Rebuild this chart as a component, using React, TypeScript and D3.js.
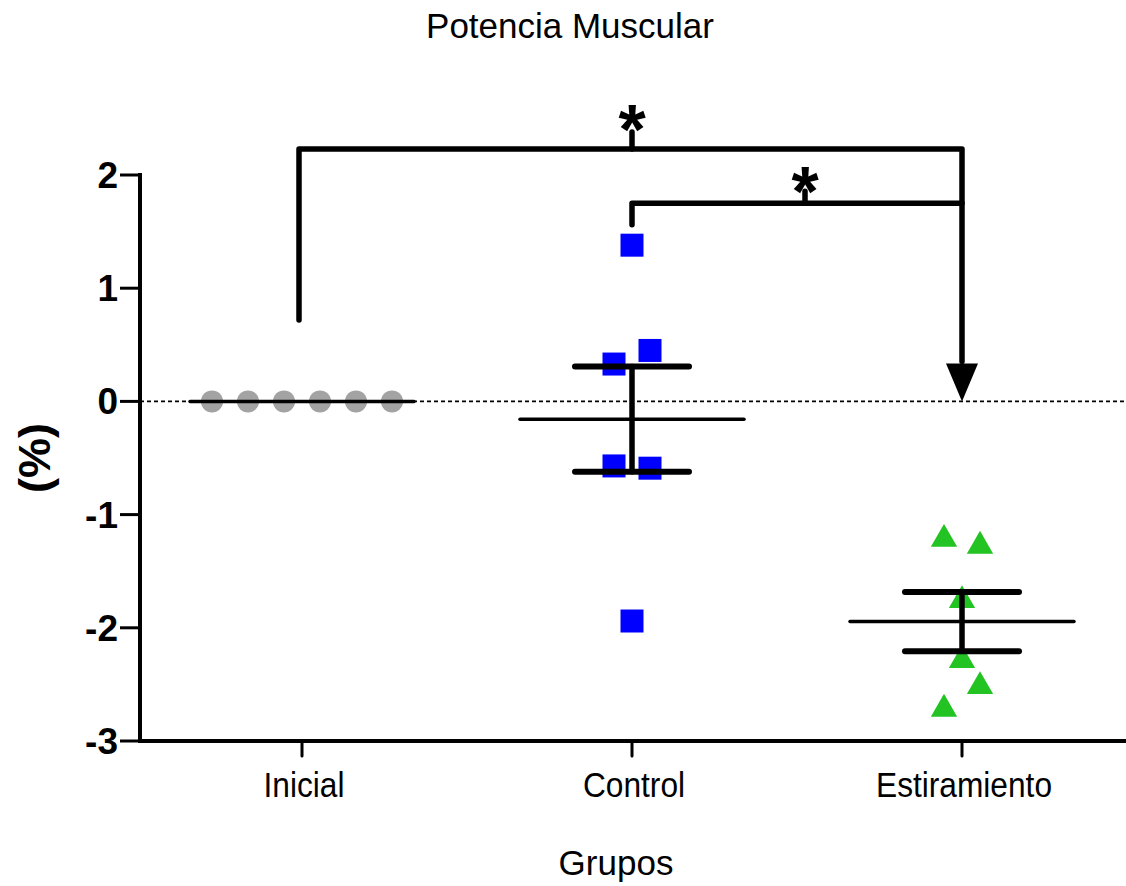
import React from "react";
import * as d3 from "d3";

const categories = ["Inicial", "Control", "Estiramiento"];
const inicialValues = [0, 0, 0, 0, 0, 0];
const controlValues = [1.38, 0.33, 0.45, -0.57, -0.59, -1.94];
const estiramientoValues = [-1.2, -1.26, -1.74, -2.27, -2.5, -2.7];
const yTicks = [-3, -2, -1, 0, 1, 2];
const comparisons = [
  { from: "Inicial", to: "Estiramiento", label: "*" },
  { from: "Control", to: "Estiramiento", label: "*" },
];
const titleText = "Potencia Muscular";
const xTitle = "Grupos";
const yTitle = "(%)";

const W = 1126;
const H = 886;
const FONT = "'Liberation Sans', Arial, Helvetica, sans-serif";

const seriesList = [
  { name: "Inicial", values: inicialValues, shape: "circle", color: "#a3a3a3" },
  { name: "Control", values: controlValues, shape: "square", color: "#0000ff" },
  { name: "Estiramiento", values: estiramientoValues, shape: "triangle", color: "#22c322" },
];

function jitter(values: number[], y: (v: number) => number, step: number): number[] {
  const idx = values.map((_, i) => i).sort((a, b) => values[b] - values[a]);
  const clusters: number[][] = [];
  idx.forEach((i) => {
    const last = clusters[clusters.length - 1];
    if (last && Math.abs(y(values[last[last.length - 1]]) - y(values[i])) < 30) last.push(i);
    else clusters.push([i]);
  });
  const out = new Array(values.length).fill(0);
  clusters.forEach((c) => {
    const sorted = [...c].sort((a, b) => a - b);
    const n = sorted.length;
    sorted.forEach((i, k) => {
      if (n === 3) out[i] = [0, 0.5, -0.5][k] * step;
      else out[i] = (k - (n - 1) / 2) * step;
    });
  });
  return out;
}

export default function App() {
  const left = 140;
  const bottom = 741;
  const top = 175;
  const y = d3.scaleLinear().domain([-3, 2]).range([bottom, top]);
  const x = d3.scalePoint<string>().domain(categories).range([302, 962]);

  const symSquare = d3.symbol().type(d3.symbolSquare).size(23 * 23);
  const symTri = d3.symbol().type(d3.symbolTriangle).size(300);

  const bx = (c: string) => x(c) as number;
  const yTop1 = y(2.23);
  const yTop2 = y(1.75);

  return (
    <svg
      width={W}
      height={H}
      style={{ position: "absolute", left: 0, top: 0, background: "#fff" }}
      fontFamily={FONT}
    >
      <rect width={W} height={H} fill="#fff" />
      <text x={570} y={38} textAnchor="middle" fontSize={35}>{titleText}</text>

      {/* zero line */}
      <line x1={left} x2={W} y1={y(0)} y2={y(0)} stroke="#000" strokeWidth={1.6} strokeDasharray="4,3" />

      {/* y axis */}
      <line x1={left} x2={left} y1={top - 2} y2={bottom + 2} stroke="#000" strokeWidth={4} />
      {yTicks.map((t) => (
        <g key={t}>
          <line x1={left - 20} x2={left} y1={y(t)} y2={y(t)} stroke="#000" strokeWidth={3} />
          <text x={left - 22} y={y(t) + 13} textAnchor="end" fontSize={37} fontWeight="bold">
            {t}
          </text>
        </g>
      ))}
      <text
        transform={`translate(50,${(top + bottom) / 2}) rotate(-90)`}
        textAnchor="middle"
        fontSize={45}
        fontWeight="bold"
      >
        {yTitle}
      </text>

      {/* x axis */}
      <line x1={left - 2} x2={W} y1={bottom} y2={bottom} stroke="#000" strokeWidth={4} />
      {categories.map((c) => (
        <g key={c}>
          <line x1={bx(c)} x2={bx(c)} y1={bottom} y2={bottom + 15} stroke="#000" strokeWidth={3} strokeLinecap="round" />
          <text
            transform={`translate(${bx(c) + 2},797) scale(0.88,1)`}
            textAnchor="middle"
            fontSize={36}
          >
            {c}
          </text>
        </g>
      ))}
      <text x={616} y={875} textAnchor="middle" fontSize={35}>{xTitle}</text>

      {/* points */}
      {seriesList.map((s) => {
        const off = jitter(s.values, y, 36);
        const cx = bx(s.name);
        return (
          <g key={s.name}>
            {s.values.map((v, i) => {
              const px = cx + off[i];
              const py = y(v);
              if (s.shape === "circle")
                return <circle key={i} cx={px} cy={py} r={11} fill={s.color} />;
              if (s.shape === "square")
                return <path key={i} d={symSquare() as string} transform={`translate(${px},${py})`} fill={s.color} />;
              return <path key={i} d={symTri() as string} transform={`translate(${px},${py + 2})`} fill={s.color} />;
            })}
          </g>
        );
      })}

      {/* mean & SEM */}
      {seriesList.map((s) => {
        const m = d3.mean(s.values) as number;
        const sd = d3.deviation(s.values) || 0;
        const sem = sd / Math.sqrt(s.values.length);
        const cx = bx(s.name);
        return (
          <g key={s.name} stroke="#000" strokeLinecap="round">
            <line x1={cx - 112} x2={cx + 112} y1={y(m)} y2={y(m)} strokeWidth={3.5} />
            {sem > 0 && (
              <>
                <line x1={cx} x2={cx} y1={y(m + sem)} y2={y(m - sem)} strokeWidth={5.5} />
                <line x1={cx - 57} x2={cx + 57} y1={y(m + sem)} y2={y(m + sem)} strokeWidth={6} />
                <line x1={cx - 57} x2={cx + 57} y1={y(m - sem)} y2={y(m - sem)} strokeWidth={6} />
              </>
            )}
          </g>
        );
      })}

      {/* significance brackets */}
      <g stroke="#000" strokeWidth={5.5} fill="none" strokeLinejoin="round" strokeLinecap="round">
        <path d={`M${bx(comparisons[0].from) - 3},${y(0.72)} V${yTop1} H${bx(comparisons[0].to)} V${y(0) - 40}`} />
        <path d={`M${bx(comparisons[1].from)},${y(1.56)} V${yTop2} H${bx(comparisons[1].to)}`} />
        <line x1={bx("Control")} x2={bx("Control")} y1={yTop1} y2={yTop1 - 17} />
        <line x1={805} x2={805} y1={yTop2} y2={yTop2 - 12} />
      </g>
      <path
        d={`M${bx("Estiramiento") - 16},${y(0) - 38} L${bx("Estiramiento") + 16},${y(0) - 38} L${bx("Estiramiento")},${y(0)} Z`}
        fill="#000"
      />
      <text x={bx("Control")} y={yTop1 + 5} textAnchor="middle" fontSize={70} fontWeight="bold">{comparisons[0].label}</text>
      <text x={805} y={yTop2 + 13} textAnchor="middle" fontSize={70} fontWeight="bold">{comparisons[1].label}</text>
    </svg>
  );
}
